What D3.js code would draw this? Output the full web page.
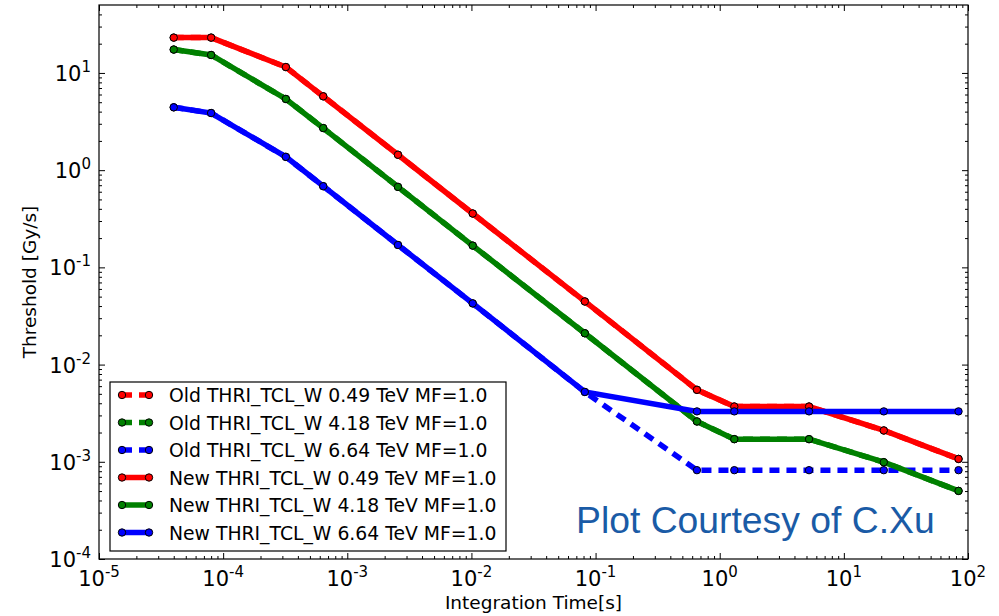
<!DOCTYPE html>
<html>
<head>
<meta charset="utf-8">
<script src="https://cdn.jsdelivr.net/npm/d3@7"></script>
<style>
  body { margin: 0; background: #fff; }
  svg { display: block; }
  text { font-family: "DejaVu Sans", sans-serif; fill: #000; }
  text.note { font-family: "Liberation Sans", Arial, sans-serif; fill: #1a5ba6; }
</style>
</head>
<body>
<div id="chart"></div>
<script>
// Datos
const times = [4e-5, 8e-5, 3.2e-4, 6.4e-4, 2.56e-3, 1.024e-2, 8.192e-2, 0.65536, 1.31072, 5.24288, 20.97152, 83.88608];

const oldRed   = [23.1, 23.1, 11.5, 5.75, 1.44, 0.358, 0.0446, 0.0055, 0.0037, 0.0037, 0.0021, 0.00107];
const oldGreen = [17.4, 15.3, 5.4, 2.71, 0.673, 0.1675, 0.021, 0.0026, 0.00171, 0.00171, 0.00099, 0.000502];
const oldBlue  = [4.43, 3.87, 1.37, 0.684, 0.17, 0.0426, 0.00523, 0.00082, 0.00082, 0.00082, 0.00082, 0.00082];
const newRed   = [23.1, 23.1, 11.5, 5.75, 1.44, 0.358, 0.0446, 0.0055, 0.0037, 0.0037, 0.0021, 0.00107];
const newGreen = [17.4, 15.3, 5.4, 2.71, 0.673, 0.1675, 0.021, 0.0026, 0.00171, 0.00171, 0.00099, 0.000502];
const newBlue  = [4.43, 3.87, 1.37, 0.684, 0.17, 0.0426, 0.00523, 0.0033, 0.0033, 0.0033, 0.0033, 0.0033];

const seriesNames = [
  "Old THRI_TCL_W 0.49 TeV MF=1.0",
  "Old THRI_TCL_W 4.18 TeV MF=1.0",
  "Old THRI_TCL_W 6.64 TeV MF=1.0",
  "New THRI_TCL_W 0.49 TeV MF=1.0",
  "New THRI_TCL_W 4.18 TeV MF=1.0",
  "New THRI_TCL_W 6.64 TeV MF=1.0"
];

const xExponents = [-5, -4, -3, -2, -1, 0, 1, 2];
const yExponents = [-4, -3, -2, -1, 0, 1];

const series = [
  {name: seriesNames[0], values: oldRed,   color: "#ff0000", dashed: true},
  {name: seriesNames[1], values: oldGreen, color: "#008000", dashed: true},
  {name: seriesNames[2], values: oldBlue,  color: "#0000ff", dashed: true},
  {name: seriesNames[3], values: newRed,   color: "#ff0000", dashed: false},
  {name: seriesNames[4], values: newGreen, color: "#008000", dashed: false},
  {name: seriesNames[5], values: newBlue,  color: "#0000ff", dashed: false}
];

// Grafico
const width = 999;
const height = 616;
const plot = {left: 99, right: 968, top: 5, bottom: 559};

let svg = d3.select("#chart").append("svg")
  .attr("width", width)
  .attr("height", height);

let x = d3.scaleLog().domain([1e-5, 1e2]).range([plot.left, plot.right]);
let y = d3.scaleLog().domain([1e-4, 50]).range([plot.bottom, plot.top]);

// ticks menores 2..9 de cada decada
function minorTicks(scale) {
  const [a, b] = scale.domain();
  const out = [];
  for (let e = Math.floor(Math.log10(a)); e <= Math.ceil(Math.log10(b)); e++) {
    for (let m = 2; m <= 9; m++) {
      const v = m * Math.pow(10, e);
      if (v > a && v < b) out.push(v);
    }
  }
  return out;
}

const xMajor = xExponents.map(e => Math.pow(10, e));
const yMajor = yExponents.map(e => Math.pow(10, e));
const xMinor = minorTicks(x);
const yMinor = minorTicks(y);

function tickAxis(axisFn, scale, values, size, transform) {
  svg.append("g")
    .attr("transform", transform)
    .call(axisFn(scale).tickValues(values).tickSize(size).tickFormat(""))
    .call(g => g.select(".domain").remove())
    .call(g => g.selectAll("line").attr("stroke", "#000").attr("stroke-width", 1));
}

// ticks hacia adentro en los cuatro lados
tickAxis(d3.axisBottom, x, xMajor, -6, `translate(0,${plot.bottom})`);
tickAxis(d3.axisBottom, x, xMinor, -3, `translate(0,${plot.bottom})`);
tickAxis(d3.axisTop, x, xMajor, -6, `translate(0,${plot.top})`);
tickAxis(d3.axisTop, x, xMinor, -3, `translate(0,${plot.top})`);
tickAxis(d3.axisLeft, y, yMajor, -6, `translate(${plot.left},0)`);
tickAxis(d3.axisLeft, y, yMinor, -3, `translate(${plot.left},0)`);
tickAxis(d3.axisRight, y, yMajor, -6, `translate(${plot.right},0)`);
tickAxis(d3.axisRight, y, yMinor, -3, `translate(${plot.right},0)`);

// Marco
svg.append("rect")
  .attr("x", plot.left)
  .attr("y", plot.top)
  .attr("width", plot.right - plot.left)
  .attr("height", plot.bottom - plot.top)
  .attr("fill", "none")
  .attr("stroke", "#000")
  .attr("stroke-width", 1.2);

// Etiquetas de ticks con superindice
function powerLabel(sel, e) {
  sel.append("tspan").text("10");
  sel.append("tspan")
    .attr("dy", -9)
    .attr("font-size", 15)
    .text(e);
}

xExponents.forEach(e => {
  let t = svg.append("text")
    .attr("x", x(Math.pow(10, e)))
    .attr("y", 586)
    .attr("text-anchor", "middle")
    .attr("font-size", 21);
  powerLabel(t, e);
});

yExponents.forEach(e => {
  let t = svg.append("text")
    .attr("x", 91)
    .attr("y", y(Math.pow(10, e)) + 8)
    .attr("text-anchor", "end")
    .attr("font-size", 21);
  powerLabel(t, e);
});

// Titulos de ejes
svg.append("text")
  .attr("x", (plot.left + plot.right) / 2)
  .attr("y", 609)
  .attr("text-anchor", "middle")
  .attr("font-size", 18.5)
  .text("Integration Time[s]");

svg.append("text")
  .attr("transform", `translate(36,${(plot.top + plot.bottom) / 2}) rotate(-90)`)
  .attr("text-anchor", "middle")
  .attr("font-size", 18.5)
  .text("Threshold [Gy/s]");

// Lineas y puntos
let line = d3.line()
  .x(d => x(d[0]))
  .y(d => y(d[1]));

let plotArea = svg.append("g");

series.forEach(s => {
  const pts = times.map((t, i) => [t, s.values[i]]);
  plotArea.append("path")
    .datum(pts)
    .attr("d", line)
    .attr("fill", "none")
    .attr("stroke", s.color)
    .attr("stroke-width", 5.5)
    .attr("stroke-dasharray", s.dashed ? "10,7" : null);
  plotArea.selectAll(null)
    .data(pts)
    .enter()
    .append("circle")
    .attr("cx", d => x(d[0]))
    .attr("cy", d => y(d[1]))
    .attr("r", 3.7)
    .attr("fill", s.color)
    .attr("stroke", "#000")
    .attr("stroke-width", 1);
});

// Leyenda
const legend = {x: 110, y: 382, w: 396, h: 169, row0: 395, rowStep: 27.5};

svg.append("rect")
  .attr("x", legend.x)
  .attr("y", legend.y)
  .attr("width", legend.w)
  .attr("height", legend.h)
  .attr("fill", "#fff")
  .attr("stroke", "#000")
  .attr("stroke-width", 1.2);

series.forEach((s, i) => {
  const ry = legend.row0 + i * legend.rowStep;
  svg.append("line")
    .attr("x1", 122)
    .attr("x2", 149)
    .attr("y1", ry)
    .attr("y2", ry)
    .attr("stroke", s.color)
    .attr("stroke-width", 5.5)
    .attr("stroke-dasharray", s.dashed ? "10,7" : null);
  [122, 149].forEach(cx => {
    svg.append("circle")
      .attr("cx", cx)
      .attr("cy", ry)
      .attr("r", 3.7)
      .attr("fill", s.color)
      .attr("stroke", "#000")
      .attr("stroke-width", 1);
  });
  svg.append("text")
    .attr("x", 169)
    .attr("y", ry + 7)
    .attr("font-size", 18.8)
    .text(s.name);
});

// Nota
svg.append("text")
  .attr("class", "note")
  .attr("x", 576)
  .attr("y", 533)
  .attr("font-size", 37.3)
  .text("Plot Courtesy of C.Xu");
</script>
</body>
</html>
